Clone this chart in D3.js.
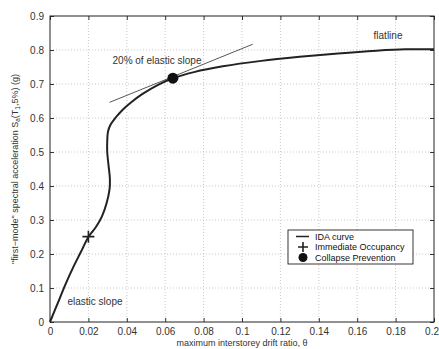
<!DOCTYPE html>
<html><head><meta charset="utf-8">
<script src="https://cdn.jsdelivr.net/npm/d3@7"></script>
<style>body{margin:0;background:#fff}svg{display:block}text{font-family:"Liberation Sans",Arial,sans-serif}</style>
</head><body><svg id="c" width="439" height="349"></svg>
<script>
const xTicks = [0,0.02,0.04,0.06,0.08,0.1,0.12,0.14,0.16,0.18,0.2];
const yTicks = [0,0.1,0.2,0.3,0.4,0.5,0.6,0.7,0.8,0.9];
const driftX = [0,0.004,0.008,0.012,0.016,0.02,0.024,0.027,0.0295,0.031,0.0312,0.0305,0.0298,0.0298,0.0302,0.0315,0.034,0.038,0.042,0.048,0.056,0.064,0.075,0.09,0.11,0.13,0.15,0.17,0.185,0.2];
const saY    = [0,0.055,0.11,0.16,0.205,0.25,0.28,0.31,0.35,0.39,0.42,0.46,0.5,0.53,0.56,0.58,0.6,0.625,0.645,0.67,0.697,0.717,0.735,0.752,0.768,0.78,0.79,0.798,0.802,0.802];
const slopeX = [0.031,0.1056];
const slopeY = [0.646,0.817];
const ioPoint = [0.02,0.251];
const cpPoint = [0.064,0.717];

const svg = d3.select("#c");
const L=50,R=434,T=16,B=322;
const x = d3.scaleLinear().domain([0,0.2]).range([L,R]);
const y = d3.scaleLinear().domain([0,0.9]).range([B,T]);
const txt="#333";

// grid
const g = svg.append("g");
g.selectAll(".gx").data(xTicks.slice(1,-1)).join("line").attr("x1",d=>x(d)).attr("x2",d=>x(d)).attr("y1",T).attr("y2",B)
 .attr("stroke","#bbb").attr("stroke-width",0.8).attr("stroke-dasharray","1,2");
g.selectAll(".gy").data(yTicks.slice(1,-1)).join("line").attr("y1",d=>y(d)).attr("y2",d=>y(d)).attr("x1",L).attr("x2",R)
 .attr("stroke","#bbb").attr("stroke-width",0.8).attr("stroke-dasharray","1,2");

// axes
const fmt = d=> d===0?"0":String(+d.toFixed(2));
svg.append("g").attr("transform",`translate(0,${B})`).call(d3.axisBottom(x).tickValues(xTicks).tickFormat(fmt).tickSizeInner(-4).tickSizeOuter(0).tickPadding(6))
 .call(a=>{a.select(".domain").remove();a.selectAll("line").attr("stroke","#333");a.selectAll("text").attr("fill",txt).attr("font-size",10).attr("font-family","Liberation Sans, Arial, sans-serif");
   a.selectAll(".tick").filter(d=>d===0.2).select("text").attr("text-anchor","end").attr("x",4.5);});
svg.append("g").attr("transform",`translate(0,${T})`).call(d3.axisTop(x).tickValues(xTicks).tickFormat("").tickSizeInner(-4).tickSizeOuter(0))
 .call(a=>{a.select(".domain").remove();a.selectAll("line").attr("stroke","#333");});
svg.append("g").attr("transform",`translate(${L},0)`).call(d3.axisLeft(y).tickValues(yTicks).tickFormat(fmt).tickSizeInner(-4).tickSizeOuter(0).tickPadding(6))
 .call(a=>{a.select(".domain").remove();a.selectAll("line").attr("stroke","#333");a.selectAll("text").attr("fill",txt).attr("font-size",10).attr("font-family","Liberation Sans, Arial, sans-serif");});
svg.append("g").attr("transform",`translate(${R},0)`).call(d3.axisRight(y).tickValues(yTicks).tickFormat("").tickSizeInner(-4).tickSizeOuter(0))
 .call(a=>{a.select(".domain").remove();a.selectAll("line").attr("stroke","#333");});
svg.append("rect").attr("x",L).attr("y",T).attr("width",R-L).attr("height",B-T).attr("fill","none").attr("stroke","#222").attr("stroke-width",1);

// slope line
svg.append("line").attr("x1",x(slopeX[0])).attr("y1",y(slopeY[0])).attr("x2",x(slopeX[1])).attr("y2",y(slopeY[1]))
 .attr("stroke","#444").attr("stroke-width",0.9);

// IDA curve
const pts = driftX.map((d,i)=>[d,saY[i]]);
svg.append("path").datum(pts).attr("d",d3.line().x(d=>x(d[0])).y(d=>y(d[1])).curve(d3.curveCatmullRom.alpha(0.5)))
 .attr("fill","none").attr("stroke","#222").attr("stroke-width",2);

// markers
const plus=(px,py,s)=>`M${px-s},${py}H${px+s}M${px},${py-s}V${py+s}`;
svg.append("path").attr("d",plus(x(ioPoint[0]),y(ioPoint[1]),6)).attr("stroke","#222").attr("stroke-width",1.6);
svg.append("circle").attr("cx",x(cpPoint[0])).attr("cy",y(cpPoint[1])).attr("r",5.5).attr("fill","#111");

// annotations
svg.append("text").attr("x",157).attr("y",64).attr("text-anchor","middle").attr("font-size",10).attr("fill",txt).text("20% of elastic slope");
svg.append("text").attr("x",388).attr("y",39).attr("text-anchor","middle").attr("font-size",10).attr("fill",txt).text("flatline");
svg.append("text").attr("x",95).attr("y",305).attr("text-anchor","middle").attr("font-size",10).attr("fill",txt).text("elastic slope");

// legend
const lg = svg.append("g");
lg.append("rect").attr("x",288).attr("y",230).attr("width",125).attr("height",34).attr("fill","#fff").attr("stroke","#222").attr("stroke-width",0.9);
const legItems=["IDA curve","Immediate Occupancy","Collapse Prevention"];
lg.selectAll("text").data(legItems).join("text").attr("x",315).attr("y",(d,i)=>239.5+i*10.6).attr("font-size",9).attr("fill","#111").text(d=>d);
lg.append("line").attr("x1",296).attr("x2",309).attr("y1",236.5).attr("y2",236.5).attr("stroke","#222").attr("stroke-width",1.5);
lg.append("path").attr("d",plus(303,247,5)).attr("stroke","#222").attr("stroke-width",1.6);
lg.append("circle").attr("cx",303).attr("cy",257.5).attr("r",4.5).attr("fill","#111");

// axis labels
svg.append("text").attr("x",242).attr("y",346).attr("text-anchor","middle").attr("font-size",9).attr("fill",txt).text("maximum interstorey drift ratio, θ");
const yl = svg.append("text").attr("transform",`translate(18,${(T+B)/2}) rotate(-90)`).attr("text-anchor","middle").attr("font-size",9).attr("fill",txt);
yl.append("tspan").text("\"first−mode\" spectral acceleration S");
yl.append("tspan").attr("font-size",6.5).attr("dy",2).text("a");
yl.append("tspan").attr("dy",-2).text("(T");
yl.append("tspan").attr("font-size",6.5).attr("dy",2).text("1");
yl.append("tspan").attr("dy",-2).text(",5%) (g)");
</script></body></html>
